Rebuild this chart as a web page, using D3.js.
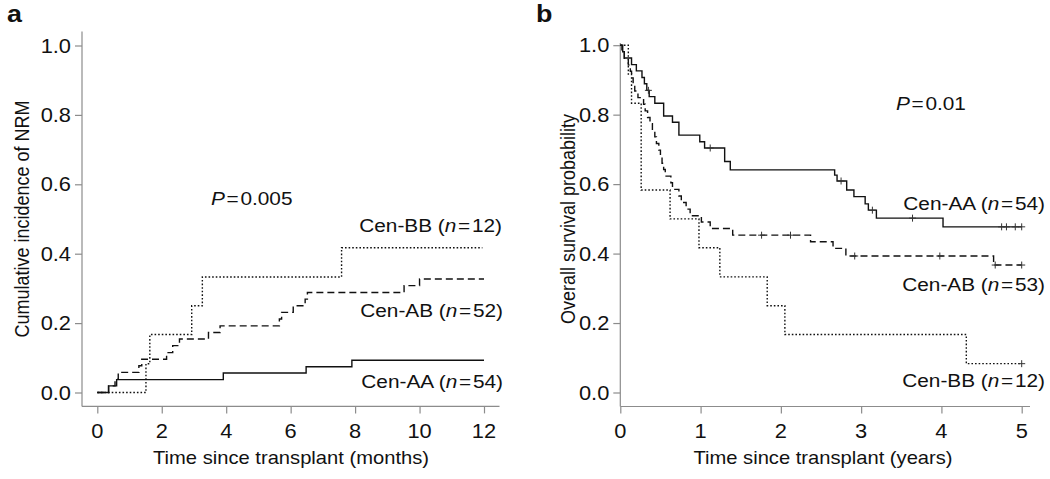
<!DOCTYPE html>
<html><head><meta charset="utf-8">
<script src="https://cdn.jsdelivr.net/npm/d3@7"></script>
<style>body{margin:0;background:#fff;} svg{display:block;}</style>
</head><body>
<script>
// ---------- Panel a: cumulative incidence of NRM (months) ----------
const nrmXTicks = [0, 2, 4, 6, 8, 10, 12];
const probTicks = [0, 0.2, 0.4, 0.6, 0.8, 1.0];
const nrmTimeAA = [0, 0.35, 0.60, 3.91, 6.48, 7.90, 12];
const nrmValAA  = [0, 0.019, 0.037, 0.056, 0.074, 0.093, 0.093];
const nrmTimeAB = [0, 0.35, 0.55, 0.65, 1.29, 1.38, 2.15, 2.34, 2.55, 3.45, 3.81, 5.65, 5.72, 6.08, 6.45, 6.52, 9.52, 10.0, 12];
const nrmValAB  = [0, 0.019, 0.038, 0.058, 0.077, 0.096, 0.115, 0.135, 0.154, 0.173, 0.192, 0.212, 0.231, 0.250, 0.269, 0.288, 0.308, 0.327, 0.327];
const nrmTimeBB = [0, 1.51, 1.63, 2.93, 3.26, 7.58, 11.95];
const nrmValBB  = [0, 0.083, 0.167, 0.250, 0.333, 0.417, 0.417];

// ---------- Panel b: overall survival (years) ----------
const osXTicks = [0, 1, 2, 3, 4, 5];
const osTimeAA = [0, 0.03, 0.05, 0.14, 0.20, 0.27, 0.30, 0.33, 0.36, 0.43, 0.54, 0.65, 0.73, 0.99, 1.05, 1.30, 1.37, 2.67, 2.70, 2.82, 2.91, 3.05, 3.09, 3.19, 4.02, 5.0];
const osValAA  = [1, 0.981, 0.963, 0.944, 0.926, 0.907, 0.889, 0.870, 0.852, 0.833, 0.796, 0.778, 0.741, 0.722, 0.704, 0.665, 0.641, 0.626, 0.609, 0.583, 0.564, 0.543, 0.525, 0.502, 0.477, 0.477];
const osCensAA = [0.35, 1.12, 2.75, 3.14, 3.64, 4.75, 4.81, 4.92, 5.0];
const osTimeAB = [0, 0.02, 0.05, 0.10, 0.125, 0.14, 0.16, 0.18, 0.22, 0.29, 0.31, 0.34, 0.37, 0.40, 0.43, 0.45, 0.48, 0.50, 0.52, 0.54, 0.56, 0.63, 0.65, 0.73, 0.76, 0.82, 0.87, 1.01, 1.12, 1.40, 2.37, 2.65, 2.81, 4.65, 5.0];
const osValAB  = [1, 0.981, 0.962, 0.943, 0.925, 0.906, 0.887, 0.868, 0.849, 0.830, 0.811, 0.792, 0.774, 0.755, 0.736, 0.717, 0.698, 0.679, 0.660, 0.642, 0.623, 0.604, 0.585, 0.566, 0.547, 0.528, 0.509, 0.491, 0.472, 0.453, 0.434, 0.415, 0.393, 0.367, 0.367];
const osCensAB = [1.76, 2.12, 2.92, 3.98, 4.67, 5.0];
const osTimeBB = [0, 0.10, 0.14, 0.26, 0.62, 0.98, 1.24, 1.83, 2.05, 4.31, 5.0];
const osValBB  = [1, 0.917, 0.833, 0.583, 0.500, 0.417, 0.333, 0.250, 0.167, 0.083, 0.083];
const osCensBB = [5.0];

const W = 1050, H = 479;
const FONT = "'Liberation Sans', Arial, Helvetica, sans-serif";
const FS = 18, TICK_FS = 19.5, LAB_FS = 18.6, SX = 1.12;
const AXIS_COL = "#8c8c8c";

const svg = d3.select("body").append("svg").attr("width", W).attr("height", H)
  .style("font-family", FONT);

function txt(x, y, parts, anchor, opts = {}) {
  const g = svg.append("g").attr("transform",
    `translate(${x},${y}) scale(${SX},1)` + (opts.rotate ? " rotate(-90)" : ""));
  const t = g.append("text").attr("text-anchor", anchor)
    .attr("font-size", opts.size || FS).attr("fill", "#111")
    .attr("font-weight", opts.bold ? "bold" : "normal");
  parts.forEach(p => {
    const s = t.append("tspan").text(p.s);
    if (p.i) s.attr("font-style", "italic");
    if (p.dx) s.attr("dx", p.dx);
  });
  return t;
}

function panel(cfg) {
  const x = d3.scaleLinear().domain(cfg.xDomain).range(cfg.xRange);
  const y = d3.scaleLinear().domain([0, 1]).range(cfg.yRange);
  const g = svg.append("g");
  g.append("line").attr("x1", cfg.axLeft).attr("x2", cfg.axLeft)
    .attr("y1", cfg.axTop).attr("y2", cfg.axBottom)
    .attr("stroke", AXIS_COL).attr("stroke-width", 1.2);
  g.append("line").attr("x1", cfg.axLeft).attr("x2", cfg.axRight)
    .attr("y1", cfg.axBottom).attr("y2", cfg.axBottom)
    .attr("stroke", AXIS_COL).attr("stroke-width", 1.2);
  const xa = g.append("g").attr("transform", `translate(0,${cfg.axBottom})`)
    .call(d3.axisBottom(x).tickValues(cfg.xTicks).tickSize(7).tickSizeOuter(0));
  xa.select(".domain").remove();
  xa.selectAll("line").attr("stroke", AXIS_COL).attr("stroke-width", 1.2);
  xa.selectAll("text").remove();
  cfg.xTicks.forEach(v => txt(x(v), cfg.axBottom + 31.5, [{s: String(v)}], "middle", {size: TICK_FS}));
  const ya = g.append("g").attr("transform", `translate(${cfg.axLeft},0)`)
    .call(d3.axisLeft(y).tickValues(probTicks).tickSize(7).tickSizeOuter(0));
  ya.select(".domain").remove();
  ya.selectAll("line").attr("stroke", AXIS_COL).attr("stroke-width", 1.2);
  ya.selectAll("text").remove();
  probTicks.forEach(v => txt(cfg.axLeft - 11, y(v) + 7, [{s: d3.format(".1f")(v)}], "end", {size: TICK_FS}));
  const line = d3.line().x(d => x(d[0])).y(d => y(d[1])).curve(d3.curveStepAfter);
  cfg.series.forEach(s => {
    const pts = s.t.map((t, i) => [t, s.v[i]]);
    g.append("path").attr("d", line(pts)).attr("fill", "none")
      .attr("stroke", "#111").attr("stroke-width", 1.4)
      .attr("stroke-dasharray", s.dash || null);
    if (s.c) {
      const stepVal = tt => { let v = s.v[0]; s.t.forEach((t, i) => { if (t <= tt) v = s.v[i]; }); return v; };
      s.c.forEach(ct => {
        const cx = x(ct), cy = y(stepVal(ct));
        g.append("path").attr("d", `M${cx-3.5},${cy}H${cx+3.5}M${cx},${cy-3.5}V${cy+3.5}`)
          .attr("stroke", "#333").attr("stroke-width", 1);
      });
    }
  });
}

const DASH = "7,4", DOT = "1.6,2";

panel({
  xDomain: [0, 12], xRange: [97.3, 484], yRange: [392.5, 45.5],
  axLeft: 82, axRight: 499.5, axTop: 31.6, axBottom: 406.4,
  xTicks: nrmXTicks,
  series: [
    {t: nrmTimeAA, v: nrmValAA},
    {t: nrmTimeAB, v: nrmValAB, dash: DASH},
    {t: nrmTimeBB, v: nrmValBB, dash: DOT}
  ]
});
panel({
  xDomain: [0, 5], xRange: [620.3, 1021.7], yRange: [392.5, 45.2],
  axLeft: 620.3, axRight: 1030, axTop: 43, axBottom: 406.5,
  xTicks: osXTicks,
  series: [
    {t: osTimeAA, v: osValAA, c: osCensAA},
    {t: osTimeAB, v: osValAB, c: osCensAB, dash: DASH},
    {t: osTimeBB, v: osValBB, c: osCensBB, dash: DOT}
  ]
});

txt(291, 464, [{s: "Time since transplant (months)"}], "middle");
txt(29, 219, [{s: "Cumulative incidence of NRM"}], "middle", {rotate: true});
txt(823, 464, [{s: "Time since transplant (years)"}], "middle");
txt(575, 219, [{s: "Overall survival probability"}], "middle", {rotate: true});
txt(7, 22, [{s: "a"}], "start", {bold: true, size: 24});
txt(536, 22, [{s: "b"}], "start", {bold: true, size: 24});

const lab = (name, n) => [{s: name + " ("}, {s: "n", i: true}, {s: "=", dx: 1.5}, {s: n + ")", dx: 1.5}];
const ann = (x, y, parts, anchor) => txt(x, y, parts, anchor, {size: LAB_FS});
ann(211, 205, [{s: "P", i: true}, {s: "=", dx: 1.5}, {s: "0.005", dx: 1.5}], "start");
ann(502, 232, lab("Cen-BB", 12), "end");
ann(503, 317, lab("Cen-AB", 52), "end");
ann(503, 388, lab("Cen-AA", 54), "end");
ann(896, 110, [{s: "P", i: true}, {s: "=", dx: 1.5}, {s: "0.01", dx: 1.5}], "start");
ann(1045, 210, lab("Cen-AA", 54), "end");
ann(1045, 291, lab("Cen-AB", 53), "end");
ann(1045, 387, lab("Cen-BB", 12), "end");
</script>
</body></html>
